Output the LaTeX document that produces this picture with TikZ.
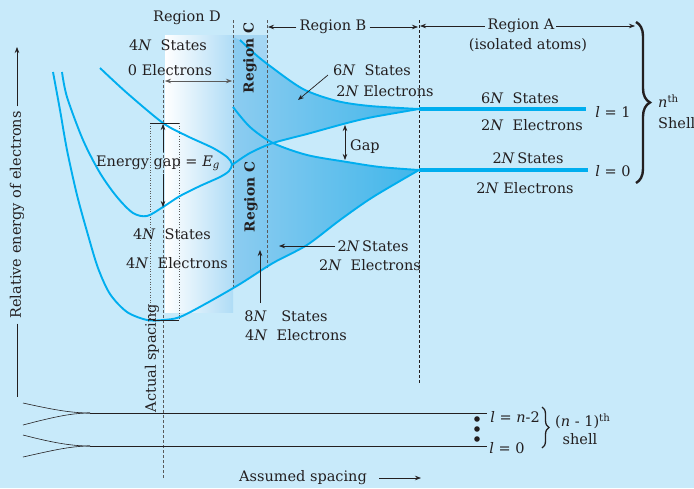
\documentclass[tikz,border=0pt]{standalone}
\usepackage{fontspec}
\setmainfont{DejaVu Serif}
\usetikzlibrary{arrows.meta,decorations.pathreplacing}
\definecolor{bg}{RGB}{200,234,250}
\definecolor{cyanc}{RGB}{0,174,239}
\definecolor{txt}{RGB}{35,31,32}
\definecolor{dR}{RGB}{175,220,246}
\definecolor{cstripT}{RGB}{165,214,243}
\definecolor{cstripB}{RGB}{140,203,240}
\definecolor{bandL}{RGB}{140,204,240}
\definecolor{bandR}{RGB}{64,182,234}
\definecolor{dashc}{RGB}{90,90,90}
\newcommand\myN{\textit{N}}
\newcommand\myl{\textit{l}}
\begin{document}
\begin{tikzpicture}[x=1pt,y=1pt,
  font=\fontsize{14.5}{17}\selectfont,
  lbl/.style={text=txt, inner sep=0pt},
  boldlbl/.style={text=txt, inner sep=0pt, font=\fontsize{13.8}{16}\selectfont\bfseries, rotate=90},
  bandcurve/.style={draw=cyanc, line width=1.9pt},
  levelline/.style={draw=cyanc, line width=3.2pt},
  dashline/.style={draw=dashc, dash pattern=on 3pt off 2pt, line width=0.7pt},
  dotline/.style={draw=dashc, dash pattern=on 1pt off 1.6pt, line width=0.7pt},
  ptr/.style={draw=txt, line width=0.7pt, -{Stealth[length=6pt,width=4.5pt]}},
  dptr/.style={draw=txt, line width=0.7pt, {Stealth[length=6pt,width=4.5pt]}-{Stealth[length=6pt,width=4.5pt]}},
  thinline/.style={draw=txt, line width=0.6pt}]
\useasboundingbox (0,0) rectangle (694,-488);
\fill[bg] (0,0) rectangle (694,-488);

% shadings
\shade[left color=white, right color=dR] (165,-35) rectangle (233,-312);
\shade[top color=cstripT, bottom color=cstripB] (233,-35) rectangle (267,-265);
\shade[left color=bandL, right color=bandR]
  (233,-37) -- plot[smooth] coordinates {(240,-40) (255,-54) (270,-66) (303,-89) (337,-101) (370,-106) (419,-109)}
  -- plot[smooth] coordinates {(419,-109) (373,-117) (347,-123) (307,-134) (273,-143)}
  -- plot[smooth] coordinates {(273,-143) (307,-155) (347,-162) (380,-167) (419,-170)}
  -- plot[smooth] coordinates {(419,-170) (373,-197) (340,-220) (307,-245) (273,-263) (240,-284) (233,-288)}
  -- cycle;

% dashed and dotted guide lines
\draw[dashline] (163,-80) -- (163,-478);
\draw[dashline] (233,-20) -- (233,-288);
\draw[dashline] (267,-20) -- (267,-268);
\draw[dashline, draw=txt] (419,-20) -- (419,-383);
\draw[dotline] (150,-123) -- (150,-320);
\draw[dotline] (179,-123) -- (179,-320);

% band curves
\draw[bandcurve] plot[smooth] coordinates {(240,-40) (255,-54) (270,-66) (303,-89) (337,-101) (370,-106) (419,-109)};
\draw[bandcurve] plot[smooth] coordinates {(419,-109) (373,-117) (347,-123) (307,-134) (273,-143) (250,-153) (232,-165)};
\draw[bandcurve] plot[smooth] coordinates {(233,-107) (250,-127) (273,-143) (307,-155) (347,-162) (380,-167) (419,-170)};
\draw[bandcurve] plot[smooth] coordinates {(419,-170) (373,-197) (340,-220) (307,-245) (273,-263) (240,-284) (207,-303) (180,-317) (163,-320) (147,-320) (127,-312) (110,-294) (98,-268) (88,-235) (77,-195) (67,-150) (60,-110) (53,-72)};
\draw[bandcurve] plot[smooth] coordinates {(100,-68) (127,-93) (163,-123) (187,-136) (213,-148) (227,-157) (232,-164) (229,-171) (220,-177) (200,-186) (180,-196) (163,-207) (147,-216) (133,-213) (117,-197) (100,-173) (83,-140) (67,-97) (62,-72)};

% isolated atom levels
\draw[levelline] (419,-109) -- (586,-109);
\draw[levelline] (419,-170) -- (588,-170);

% energy gap bars
\draw[draw=txt, line width=0.9pt] (150,-123) -- (179,-123);
\draw[draw=txt, line width=0.9pt] (153,-320) -- (179,-320);

% texts
\node[lbl] (regD) at (187,-18) {Region D};
\node[lbl] (dS) at (168,-45) {4\myN\ \ States};
\node[lbl] (dE) at (170,-70) {0 Electrons};
\node[boldlbl] (regC1) at (250,-58) {Region C};
\node[boldlbl] (regC2) at (251,-197) {Region C};
\node[lbl] (regB) at (333,-27) {Region B};
\node[lbl] (regA) at (521,-26) {Region A};
\node[lbl] (iso) at (528,-45) {(isolated atoms)};
\node[lbl] (uS) at (372,-70) {6\myN\ \ States};
\node[lbl] (uE) at (385,-91) {2\myN\ Electrons};
\node[lbl] (aS1) at (520,-98) {6\myN\ \ States};
\node[lbl] (aE1) at (532,-125) {2\myN\ \ Electrons};
\node[lbl] (aS0) at (528,-158) {2\myN\,States};
\node[lbl] (aE0) at (525,-188) {2\myN\ Electrons};
\node[lbl] (l1) at (613,-112) {\myl\ = 1};
\node[lbl] (l0) at (613,-171) {\myl\ = 0};
\node[lbl, anchor=west] (nth) at (658,-101) {\textit{n}\textsuperscript{th}};
\node[lbl, anchor=west] (shell) at (658,-123) {Shell};
\node[lbl] (gap) at (365,-147) {Gap};
\node[lbl] (eg) at (158,-163) {Energy gap = \textit{E}\textsubscript{\textit{g}}};
\node[lbl] (lS) at (172,-234) {4\myN\ \ States};
\node[lbl] (lE) at (177,-263) {4\myN\ \ Electrons};
\node[lbl] (bS) at (373,-246) {2\myN\,States};
\node[lbl] (bE) at (370,-265) {2\myN\ \ Electrons};
\node[lbl] (eS) at (286,-316) {8\myN\hspace{1em}States};
\node[lbl] (eE) at (296,-335) {4\myN\ \ Electrons};
\node[lbl, rotate=90] (act) at (152,-358) {Actual spacing};
\node[lbl, rotate=90] (rel) at (17,-215) {Relative energy of electrons};
\node[lbl] (ln2) at (515,-417) {\myl\ = \textit{n}-2};
\node[lbl] (lz) at (507,-448) {\myl\ = 0};
\node[lbl, anchor=west] (n1) at (555,-421) {(\textit{n} - 1)\textsuperscript{th}};
\node[lbl] (sh) at (580,-439) {shell};
\node[lbl] (ass) at (303,-478) {Assumed spacing};

% coordinates for pointers
\coordinate (regBl) at (268,-27);
\coordinate (regBr) at (418,-27);
\coordinate (regAl) at (420,-26);
\coordinate (regAr) at (635,-26);
\coordinate (eArrL) at (165,-81);
\coordinate (eArrR) at (232,-81);
\coordinate (egTop) at (163,-124);
\coordinate (egBot) at (163,-207);
\coordinate (gapT) at (345,-125);
\coordinate (gapB) at (345,-160);
\coordinate (uTip) at (298,-100);
\coordinate (uTail) at (328,-75);
\coordinate (bTip) at (279,-246);
\coordinate (bTail) at (335,-246);
\coordinate (eTip) at (260,-250);
\coordinate (eTail) at (260,-303);
\coordinate (relTop) at (17,-47);
\coordinate (relBot) at (17,-397);
\coordinate (assEnd) at (421,-478);

\draw[ptr] (regB.west) ++(-3,0) -- (regBl);
\draw[ptr] (regB.east) ++(3,0) -- (regBr);
\draw[ptr] (regA.west) ++(-3,0) -- (regAl);
\draw[ptr] (regA.east) ++(2,0) -- (regAr);
\draw[dptr, draw=dashc] (eArrL) -- (eArrR);
\draw[ptr] (eg.north -| egTop) ++(0,3) -- (egTop);
\draw[ptr] (eg.south -| egBot) ++(0,-3) -- (egBot);
\draw[dptr] (gapT) -- (gapB);
\draw[ptr] (uTail) -- (uTip);
\draw[ptr] (bTail) -- (bTip);
\draw[ptr] (eTail) -- (eTip);
\draw[ptr] (rel.east) ++(0,5) -- (relTop);
\draw[thinline] (rel.west) ++(0,-5) -- (relBot);
\draw[ptr] (ass.east) ++(12,0) -- (assEnd);

% nth shell brace
\draw[draw=txt, line width=2.4pt, decorate, decoration={brace, amplitude=14pt}] (636,-22) -- (636,-183);

% (n-1)th shell
\coordinate (j1) at (90,-413);
\coordinate (j0) at (90,-446);
\draw[thinline] (j1) -- (487,-413);
\draw[thinline] (j0) -- (487,-446);
\draw[thinline] (23,-403) .. controls (50,-409) and (70,-413) .. (j1);
\draw[thinline] (23,-425) .. controls (50,-418) and (70,-413) .. (j1);
\draw[thinline] (23,-435) .. controls (50,-442) and (70,-446) .. (j0);
\draw[thinline] (23,-457) .. controls (50,-451) and (70,-446) .. (j0);
\fill[txt] (477,-419) circle (2.8);
\fill[txt] (477,-429) circle (2.8);
\fill[txt] (477,-439) circle (2.8);
\draw[draw=txt, line width=1.3pt, decorate, decoration={brace, amplitude=7pt}] (542,-407) -- (542,-448);
\end{tikzpicture}
\end{document}
